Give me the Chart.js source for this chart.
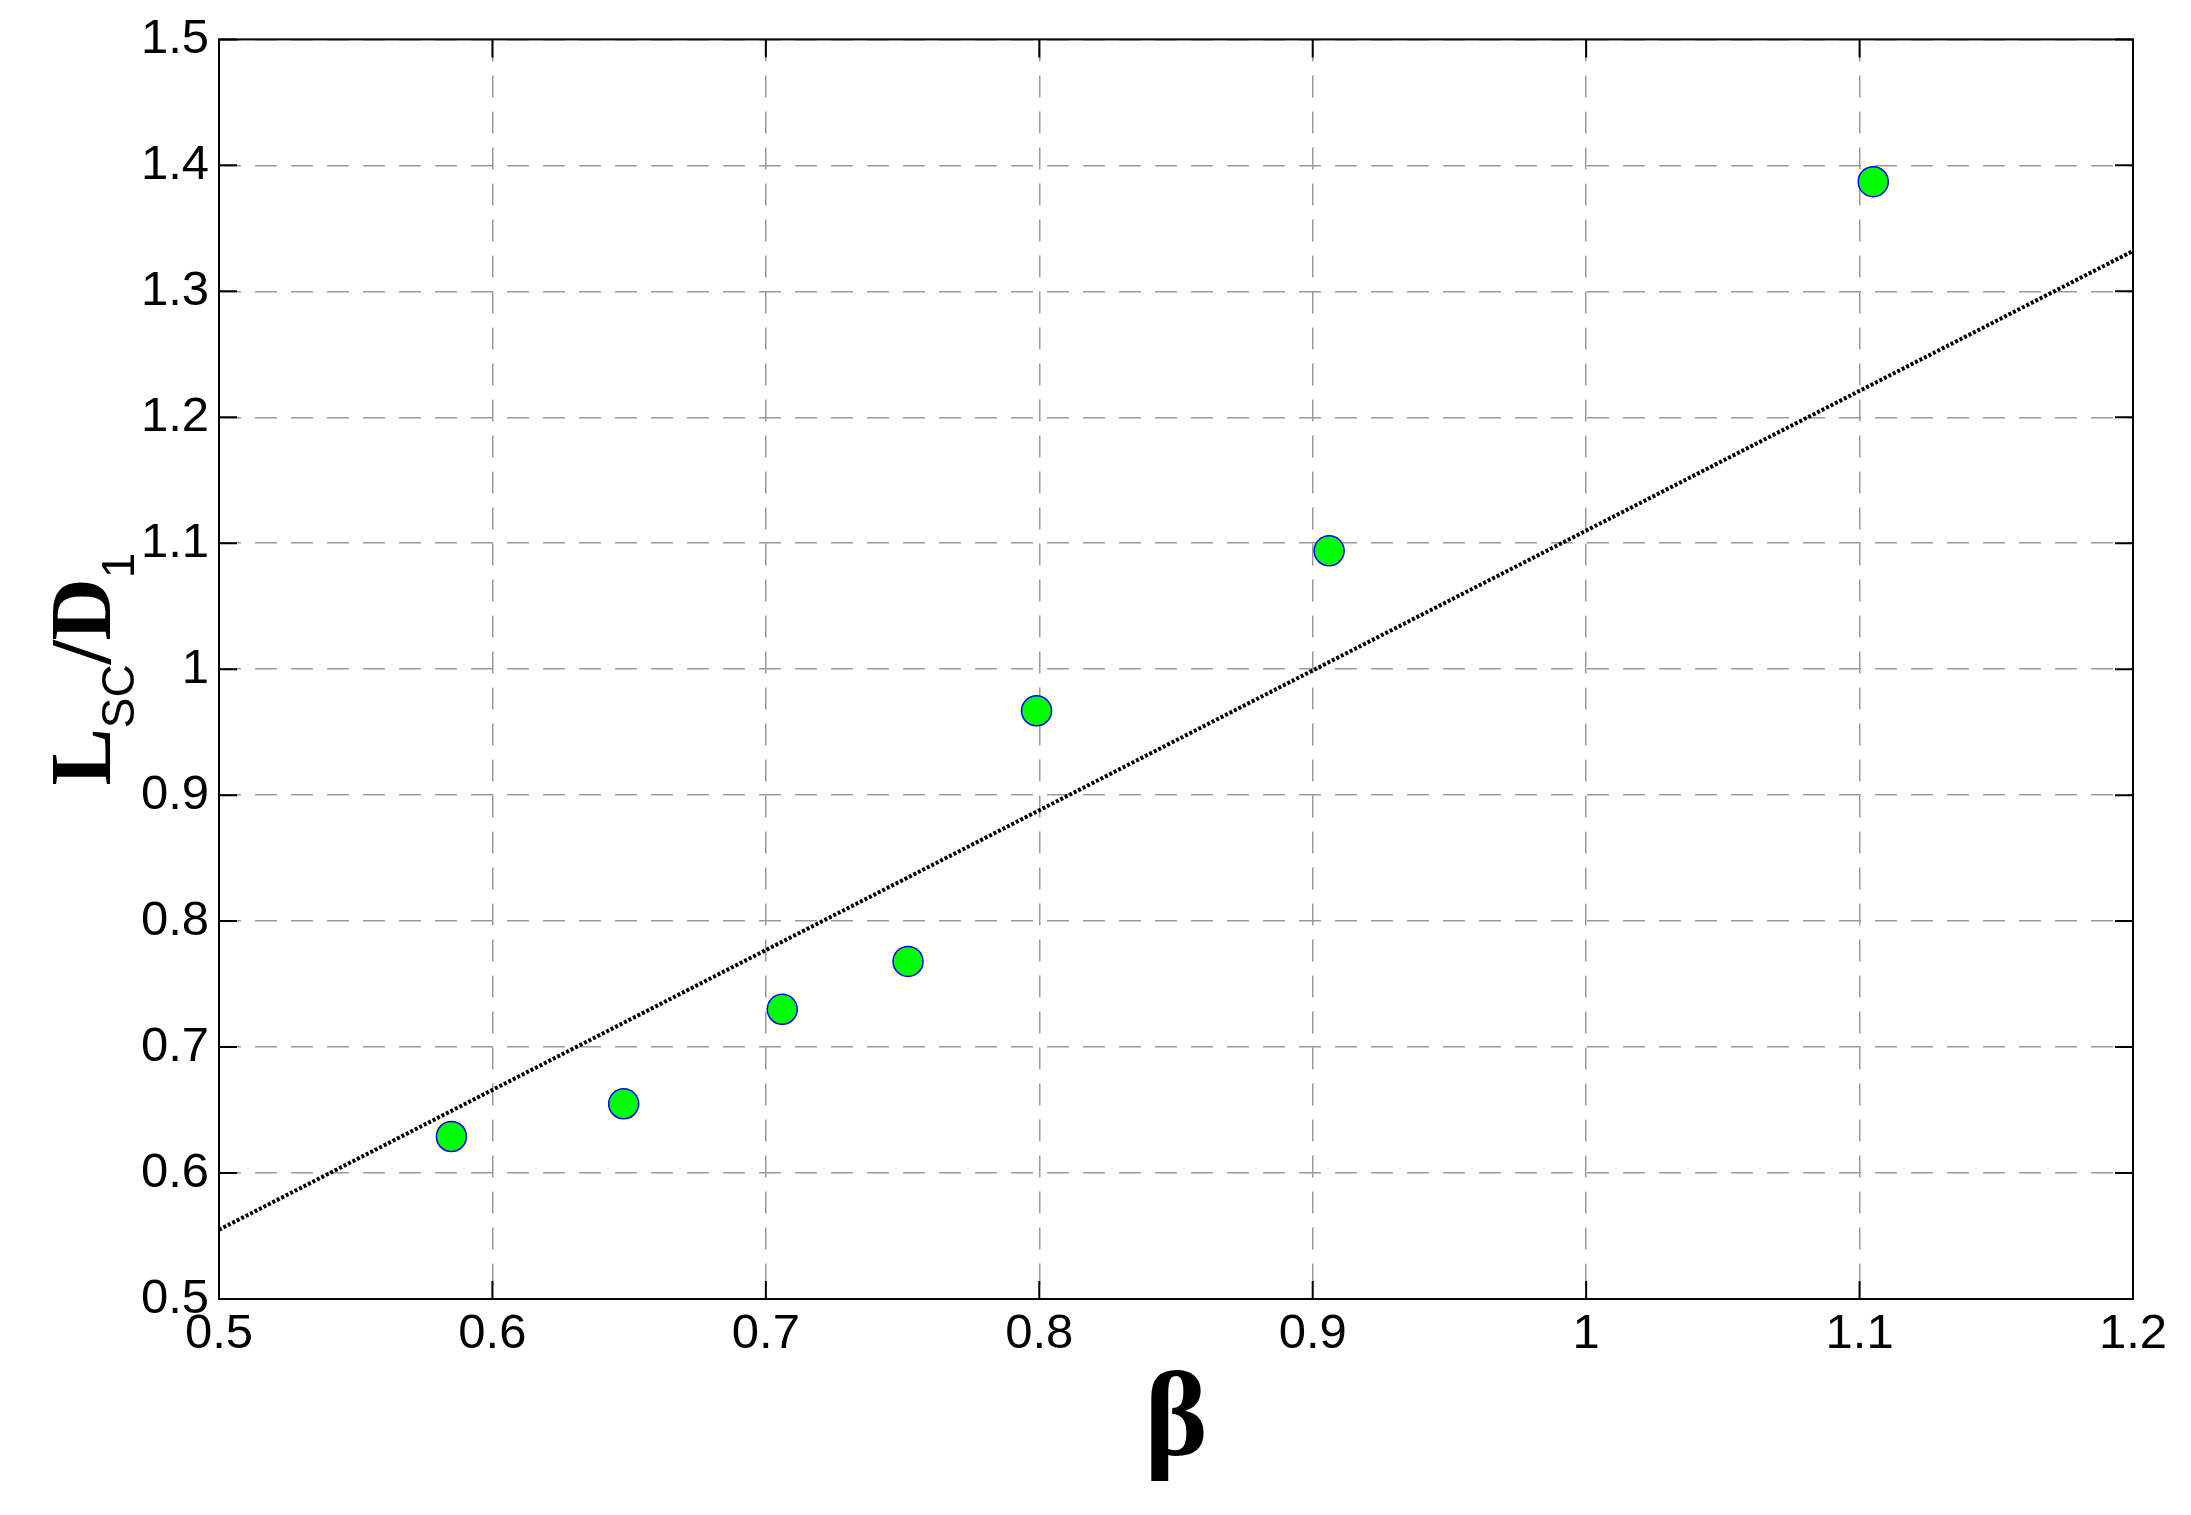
<!DOCTYPE html>
<html>
<head>
<meta charset="utf-8">
<script src="https://cdn.jsdelivr.net/npm/chart.js@4/dist/chart.umd.min.js"></script>
<style>
  html, body { margin: 0; padding: 0; background: #fff; }
  #wrap { width: 2191px; height: 1515px; }
</style>
</head>
<body>
<div id="wrap"><canvas id="c" width="2191" height="1515"></canvas></div>
<script>
// measured points
const betaValues = [0.585, 0.648, 0.706, 0.752, 0.799, 0.906, 1.105];
const ratioValues = [0.629, 0.655, 0.730, 0.768, 0.967, 1.094, 1.387];
// fitted line end points
const fitBeta = [0.5, 1.2];
const fitRatio = [0.555, 1.332];
const xTicks = [0.5, 0.6, 0.7, 0.8, 0.9, 1, 1.1, 1.2];
const yTicks = [0.5, 0.6, 0.7, 0.8, 0.9, 1, 1.1, 1.2, 1.3, 1.4, 1.5];

const tickFont = { family: "Liberation Sans, Arial", size: 49 };

// inward ticks, frame and axis titles
const framePlugin = {
  id: "frame",
  afterDraw(chart) {
    const { ctx, chartArea: a, scales: { x, y } } = chart;
    ctx.save();
    ctx.strokeStyle = "#000";
    ctx.lineWidth = 2;
    ctx.strokeRect(a.left, a.top, a.right - a.left, a.bottom - a.top);
    const len = 18;
    ctx.beginPath();
    xTicks.forEach(v => {
      const px = x.getPixelForValue(v);
      ctx.moveTo(px, a.bottom); ctx.lineTo(px, a.bottom - len);
      ctx.moveTo(px, a.top); ctx.lineTo(px, a.top + len);
    });
    yTicks.forEach(v => {
      const py = y.getPixelForValue(v);
      ctx.moveTo(a.left, py); ctx.lineTo(a.left + len, py);
      ctx.moveTo(a.right, py); ctx.lineTo(a.right - len, py);
    });
    ctx.stroke();

    // x title
    ctx.fillStyle = "#000";
    ctx.textAlign = "center";
    ctx.textBaseline = "alphabetic";
    ctx.font = "bold 120px 'Liberation Serif', 'Times New Roman'";
    ctx.fillText("β", (a.left + a.right) / 2, 1455);

    // y title, rotated, with subscripts
    ctx.translate(80, (a.top + a.bottom) / 2);
    ctx.rotate(-Math.PI / 2);
    ctx.textAlign = "left";
    const big = "bold 86px 'Liberation Serif', 'Times New Roman'";
    const small = "46px 'Liberation Sans', Arial";
    const parts = [["L", big, 0], ["SC", small, 24], ["/D", big, 0], ["1", small, 24]];
    let w = 0;
    parts.forEach(p => { ctx.font = p[1]; w += ctx.measureText(p[0]).width; });
    let cx = -w / 2;
    parts.forEach(p => {
      ctx.font = p[1];
      ctx.fillText(p[0], cx, 30 + p[2]);
      cx += ctx.measureText(p[0]).width;
    });
    ctx.restore();
  }
};

new Chart(document.getElementById("c"), {
  type: "scatter",
  data: {
    datasets: [
      {
        label: "fit",
        type: "line",
        data: fitBeta.map((b, i) => ({ x: b, y: fitRatio[i] })),
        borderColor: "#000",
        borderWidth: 4,
        borderDash: [3, 2],
        pointRadius: 0,
        fill: false
      },
      {
        label: "data",
        data: betaValues.map((b, i) => ({ x: b, y: ratioValues[i] })),
        backgroundColor: "#00ff00",
        borderColor: "#0000ff",
        borderWidth: 1.5,
        pointRadius: 15
      }
    ]
  },
  options: {
    responsive: false,
    animation: false,
    layout: { padding: { top: 39, right: 58, left: 0, bottom: 0 } },
    plugins: { legend: { display: false }, tooltip: { enabled: false } },
    scales: {
      x: {
        type: "linear", min: 0.5, max: 1.2,
        afterBuildTicks: s => { s.ticks = xTicks.map(v => ({ value: v })); },
        afterFit: s => { s.height = 216; },
        border: { display: false, dash: [22, 14] },
        grid: { color: "#999", lineWidth: 1.5, drawTicks: false },
        ticks: { font: tickFont, color: "#000", padding: 6, maxRotation: 0,
                 callback: v => String(Math.round(v * 10) / 10) }
      },
      y: {
        type: "linear", min: 0.5, max: 1.5,
        afterBuildTicks: s => { s.ticks = yTicks.map(v => ({ value: v })); },
        afterFit: s => { s.width = 219; },
        border: { display: false, dash: [22, 14] },
        grid: { color: "#999", lineWidth: 1.5, drawTicks: false },
        ticks: { font: tickFont, color: "#000", padding: 10,
                 callback: v => String(Math.round(v * 10) / 10) }
      }
    }
  },
  plugins: [framePlugin]
});
</script>
</body>
</html>
